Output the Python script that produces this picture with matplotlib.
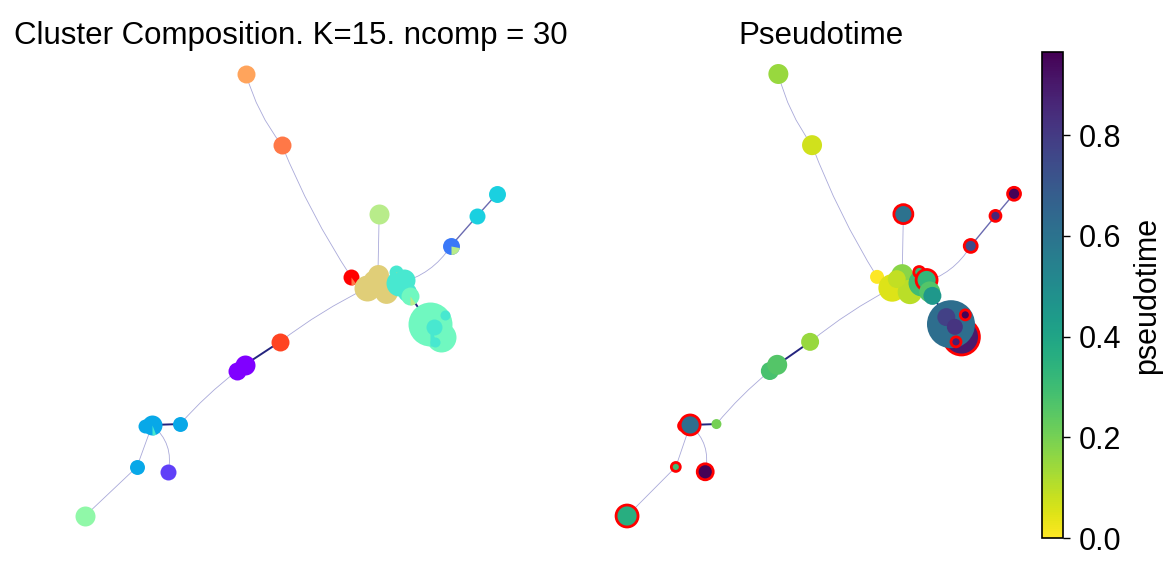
import numpy as np
import matplotlib
matplotlib.use('Agg')
import matplotlib.pyplot as plt
from matplotlib.patches import FancyArrowPatch

plt.rcParams['font.family'] = ['Liberation Sans', 'DejaVu Sans']

# cluster graph layout (embedding units)
node_x = [3.91, 4.78, 7.14, 10.0, 9.52, 8.88, 6.46, 6.85, 7.11, 7.31, 6.97,
          7.62, 7.55, 7.74, 7.82, 7.89, 8.64, 8.37, 8.25, 8.47, 8.74, 8.50,
          4.73, 3.69, 3.88, 1.46, 1.63, 2.31, 1.26, 2.02, 0.0]
node_y = [10.0, 8.39, 6.83, 7.29, 6.79, 6.11, 5.41, 5.16, 5.45, 5.07, 5.36,
          5.27, 5.52, 5.34, 5.07, 4.98, 4.05, 4.34, 4.50, 4.28, 4.55, 3.94,
          3.94, 3.28, 3.42, 2.04, 2.06, 2.08, 1.11, 1.00, 0.0]

# cluster sizes for the two panels
comp_size = [81, 81, 100, 72, 64, 72, 64, 169, 110, 130, 70,
             169, 49, 121, 90, 81, 225, 484, 64, 64, 25, 25,
             81, 81, 100, 49, 100, 56, 56, 64, 100]
pt_size = [100, 100, 90, 42, 30, 42, 49, 190, 120, 150, 80,
           180, 30, 110, 110, 81, 324, 576, 81, 64, 25, 25,
           81, 81, 100, 25, 100, 25, 20, 64, 121]

# composition: dominant true label and one minor label per cluster
label_colors = ['#8000ff', '#6040f8', '#3a78f8', '#08a8e8', '#1ad0e0',
                '#48e8d0', '#70f8c0', '#90f8a8', '#b8ec8a', '#e0ce78',
                '#ffa45c', '#ff7847', '#ff4422', '#ff0000']
main_label = [10, 11, 8, 4, 4, 2, 13, 9, 9, 9, 9,
              5, 5, 5, 5, 6, 6, 6, 6, 5, 5, 5,
              12, 0, 0, 3, 3, 3, 3, 1, 7]
minor_label = [-1, -1, -1, -1, -1, 8, 11, -1, -1, -1, -1,
               9, 9, -1, 8, 8, -1, 5, -1, -1, -1, -1,
               -1, -1, -1, -1, 5, -1, -1, -1, -1]
minor_frac = [0, 0, 0, 0, 0, 0.22, 0.1, 0, 0, 0, 0,
              0.08, 0.3, 0, 0.12, 0.1, 0, 0.05, 0, 0, 0, 0,
              0, 0, 0, 0, 0.06, 0, 0, 0, 0]

pseudotime = [0.15, 0.07, 0.60, 0.96, 0.86, 0.74, 0.0, 0.05, 0.17, 0.10, 0.09,
              0.30, 0.32, 0.33, 0.26, 0.45, 0.90, 0.62, 0.78, 0.82, 0.96, 0.88,
              0.15, 0.28, 0.26, 0.85, 0.62, 0.20, 0.30, 0.96, 0.36]
terminal = [0, 0, 1, 1, 1, 1, 0, 0, 0, 0, 0,
            0, 1, 1, 0, 0, 1, 0, 0, 0, 1, 1,
            0, 0, 0, 1, 1, 0, 1, 1, 1]

# edges: (from, to, strength, curvature)
edges = [(0, 1, 0, 0.1), (1, 6, 0, 0.05), (2, 8, 0, 0.0), (11, 5, 0, 0.2),
         (5, 4, 1, 0.0), (4, 3, 1, 0.0), (22, 7, 0, -0.05), (6, 7, 0, 0.0),
         (7, 11, 0, 0.0), (15, 17, 2, 0.0), (22, 24, 2, 0.0), (23, 27, 0, 0.05),
         (26, 27, 2, 0.0), (26, 28, 0, 0.0), (26, 29, 0, -0.3), (28, 30, 0, 0.0)]
edge_color = ['#a9a9d9', '#6a6ab0', '#24247e']
edge_width = [0.6, 1.0, 1.4]


def draw_edges(ax):
    for a, b, w, rad in edges:
        p = FancyArrowPatch((node_x[a], node_y[a]), (node_x[b], node_y[b]),
                            connectionstyle='arc3,rad=%s' % rad, arrowstyle='-',
                            color=edge_color[w], lw=edge_width[w],
                            shrinkA=0, shrinkB=0, zorder=1)
        ax.add_patch(p)


def wedge_marker(start, frac):
    t = np.linspace(start, start + 2 * np.pi * frac, 30)
    verts = np.column_stack([np.r_[0, np.cos(t), 0], np.r_[0, np.sin(t), 0]])
    return verts, np.abs(verts).max()


fig = plt.figure(figsize=(11.75, 5.72), dpi=100)
bottom = 33.9 / 572
height = 486.2 / 572
ax1 = fig.add_axes([64.4 / 1175, bottom, 453.2 / 1175, height])
ax2 = fig.add_axes([607.7 / 1175, bottom, 425.7 / 1175, height])
cax = fig.add_axes([1042 / 1175, bottom, 21 / 1175, height])

# left: pie chart per cluster
draw_edges(ax1)
for i in range(len(node_x)):
    s = 2.07 * comp_size[i]
    ax1.scatter(node_x[i], node_y[i], s=s, c=label_colors[main_label[i]],
                linewidths=0, zorder=2)
    if minor_label[i] >= 0:
        verts, m = wedge_marker(-np.pi / 2, minor_frac[i])
        ax1.scatter(node_x[i], node_y[i], s=s * m ** 2, marker=verts,
                    c=label_colors[minor_label[i]], linewidths=0, zorder=2)
ax1.set_title('Cluster Composition. K=15. ncomp = 30', fontsize=22.5)

# right: pseudotime
draw_edges(ax2)
edgecols = ['red' if t else 'none' for t in terminal]
sc = ax2.scatter(node_x, node_y, s=2.07 * np.array(pt_size), c=pseudotime,
                 cmap='viridis_r', vmin=0, vmax=0.965,
                 edgecolors=edgecols, linewidths=2, zorder=2)
ax2.set_title('Pseudotime', fontsize=22.5)

for ax in (ax1, ax2):
    ax.set_xlim(-0.5, 10.5)
    ax.set_ylim(-0.5, 10.5)
    ax.axis('off')

cb = fig.colorbar(sc, cax=cax)
cb.set_label('pseudotime', fontsize=22, labelpad=8)
cb.ax.tick_params(labelsize=22, length=5, width=1, pad=6)
cb.outline.set_linewidth(1.2)

fig.savefig('out.png', dpi=100)
